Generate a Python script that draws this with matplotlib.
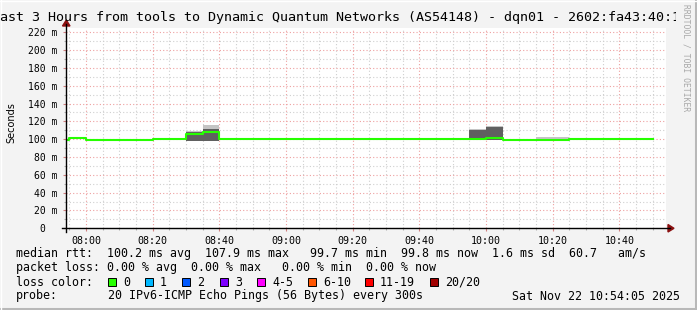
import matplotlib
matplotlib.use("Agg")
import matplotlib.pyplot as plt
from matplotlib.ticker import MultipleLocator
from matplotlib.patches import Rectangle, Polygon
from matplotlib.lines import Line2D
from matplotlib.transforms import Bbox

plt.rcParams['font.family'] = ['DejaVu Sans Mono', 'DejaVu Sans']

W, H = 697, 310

# --- data (minutes after 08:00, one value per 5 min step) ---
step_min = [-10, -5, 0, 5, 10, 15, 20, 25, 30, 35, 40, 45, 50, 55, 60, 65, 70, 75,
            80, 85, 90, 95, 100, 105, 110, 115, 120, 125, 130, 135, 140, 145, 150,
            155, 160, 165]
median_ms = [99.5, 101.0, 99.5, 99.5, 99.5, 99.5, 100.3, 100.3, 105.5, 107.9,
             100.3, 100.3, 100.3, 100.3, 100.3, 100.3, 100.3, 100.3, 100.3, 100.3,
             100.3, 100.3, 100.3, 99.7, 100.3, 99.7, 101.0, 99.6, 99.6, 99.6, 99.6,
             100.2, 100.2, 100.2, 100.2, 99.9]

# smoke (spread of the 20 pings) where it is visible
smoke_min = [30, 35, 115, 120, 135, 140]
smoke_lo = [97.6, 97.6, 99.3, 99.3, 99.0, 99.0]
smoke_hi = [109.2, 116.5, 111.0, 115.2, 102.5, 102.5]
core_lo = [97.9, 97.9, 99.4, 99.4, 99.0, 99.0]
core_hi = [107.8, 111.0, 110.6, 113.5, 99.0, 99.0]

tick_min = [0, 20, 40, 60, 80, 100, 120, 140, 160]
tick_labels = ["08:00", "08:20", "08:40", "09:00", "09:20", "09:40", "10:00", "10:20", "10:40"]
y_ticks = [0, 20, 40, 60, 80, 100, 120, 140, 160, 180, 200, 220]
y_labels = ["0\u00a0\u00a0", "20 m", "40 m", "60 m", "80 m", "100 m", "120 m", "140 m",
            "160 m", "180 m", "200 m", "220 m"]

title = "Last 3 Hours from tools to Dynamic Quantum Networks (AS54148) - dqn01 - 2602:fa43:40:1::"
loss_labels = ["0", "1", "2", "3", "4-5", "6-10", "11-19", "20/20"]
loss_colors = ['#26ff00', '#00b8ff', '#0059ff', '#7e00ff', '#ff00ff', '#ff5500', '#ff0000', '#a10000']


def px(x, y):
    return (x / W, 1 - y / H)


fig = plt.figure(figsize=(W / 100, H / 100), dpi=100, facecolor='#f3f3f3')
left, right, bottom, top = 66.3, 666.3, 228.3, 28.3
ax = fig.add_axes([left / W, 1 - bottom / H, (right - left) / W, (bottom - top) / H])
ax.set_facecolor('white')
ax.set_xlim(-5.92, 174.08)
ax.set_ylim(0, 200 / 0.8909)

for s in ax.spines.values():
    s.set_visible(False)

ax.set_xticks(tick_min)
ax.set_xticklabels(tick_labels, fontsize=7.2)
ax.xaxis.set_minor_locator(MultipleLocator(5))
ax.set_yticks(y_ticks)
ax.set_yticklabels(y_labels, fontsize=7)
ax.yaxis.set_minor_locator(MultipleLocator(10))
ax.tick_params(which='major', length=2.5, width=0.8, color='#d08080', pad=3)
ax.tick_params(which='minor', length=1.5, width=0.8, color='#b0b0b0')
ax.tick_params(axis='y', pad=4)

ax.set_axisbelow(True)
ax.grid(which='minor', color='#cfcfcf', ls=(0, (1, 2)), lw=0.8)
ax.grid(which='major', color='#eea0a0', ls=(0, (1, 2)), lw=0.8)

# smoke
ax.bar(smoke_min, [h - l for h, l in zip(smoke_hi, smoke_lo)], bottom=smoke_lo,
       width=5, align='edge', color='#c4c4c4', linewidth=0, zorder=3)
ax.bar(smoke_min, [h - l for h, l in zip(core_hi, core_lo)], bottom=core_lo,
       width=5, align='edge', color='#606060', linewidth=0, zorder=3)

# median rtt
ax.step(step_min + [step_min[-1] + 5], median_ms + [median_ms[-1]], where='post',
        color='#26ff00', lw=1.5, zorder=5)

# axis lines and arrows
fig.add_artist(Line2D([px(62, 0)[0], px(670, 0)[0]], [px(0, 228.3)[1]] * 2,
                      color='black', lw=1.0))
fig.add_artist(Line2D([px(66.3, 0)[0]] * 2, [px(0, 232)[1], px(0, 24)[1]],
                      color='black', lw=1.0))
fig.add_artist(Polygon([px(668, 224.5), px(668, 232), px(674, 228.3)], closed=True,
                       color='#8b1010'))
fig.add_artist(Polygon([px(62.5, 26), px(70, 26), px(66.3, 20)], closed=True,
                       color='#8b1010'))

# texts
t = fig.text(*px(-8, 18), title, ha='left', va='center', fontsize=9.6)
t.set_clip_box(Bbox.from_extents(0, 0, 676, H))
t.set_clip_on(True)
fig.text(*px(11, 122.5), "Seconds", rotation=90, ha='center', va='center',
         fontsize=7, family='DejaVu Sans')
fig.text(*px(686, 4), "RRDTOOL / TOBI OETIKER", rotation=270, ha='center', va='top',
         fontsize=5.8, color='#a8a8a8')

fs = 8.4
fig.text(*px(16, 254), "median rtt:  100.2 ms avg  107.9 ms max   99.7 ms min  "
         "99.8 ms now  1.6 ms sd  60.7   am/s", ha='left', va='center', fontsize=fs)
fig.text(*px(16, 268), "packet loss: 0.00 % avg  0.00 % max   0.00 % min  0.00 % now",
         ha='left', va='center', fontsize=fs)
fig.text(*px(16, 282), "loss color:", ha='left', va='center', fontsize=fs)
box_x = [108, 145, 182, 220, 257, 308, 365, 430]
for bx, lab, col in zip(box_x, loss_labels, loss_colors):
    x0, y0 = px(bx, 286)
    fig.add_artist(Rectangle((x0, y0), 8 / W, 8 / H, facecolor=col,
                             edgecolor='black', lw=0.7))
    fig.text(*px(bx + 15, 282), lab, ha='left', va='center', fontsize=fs)
fig.text(*px(16, 296), "probe:", ha='left', va='center', fontsize=fs)
fig.text(*px(108, 296), "20 IPv6-ICMP Echo Pings (56 Bytes) every 300s",
         ha='left', va='center', fontsize=fs)
fig.text(*px(680, 296), "Sat Nov 22 10:54:05 2025", ha='right', va='center', fontsize=fs)

# frame
fig.add_artist(Line2D([0, 1], [px(0, 308.5)[1]] * 2, color='#b8b8b8', lw=2.2))
fig.add_artist(Line2D([px(695.5, 0)[0]] * 2, [0, 1], color='#b8b8b8', lw=2.2))
fig.add_artist(Line2D([0, 1], [px(0, 0.5)[1]] * 2, color='#ffffff', lw=1))
fig.add_artist(Line2D([px(0.5, 0)[0]] * 2, [0, 1], color='#ffffff', lw=1))

fig.savefig("out.png", dpi=100, facecolor=fig.get_facecolor())
